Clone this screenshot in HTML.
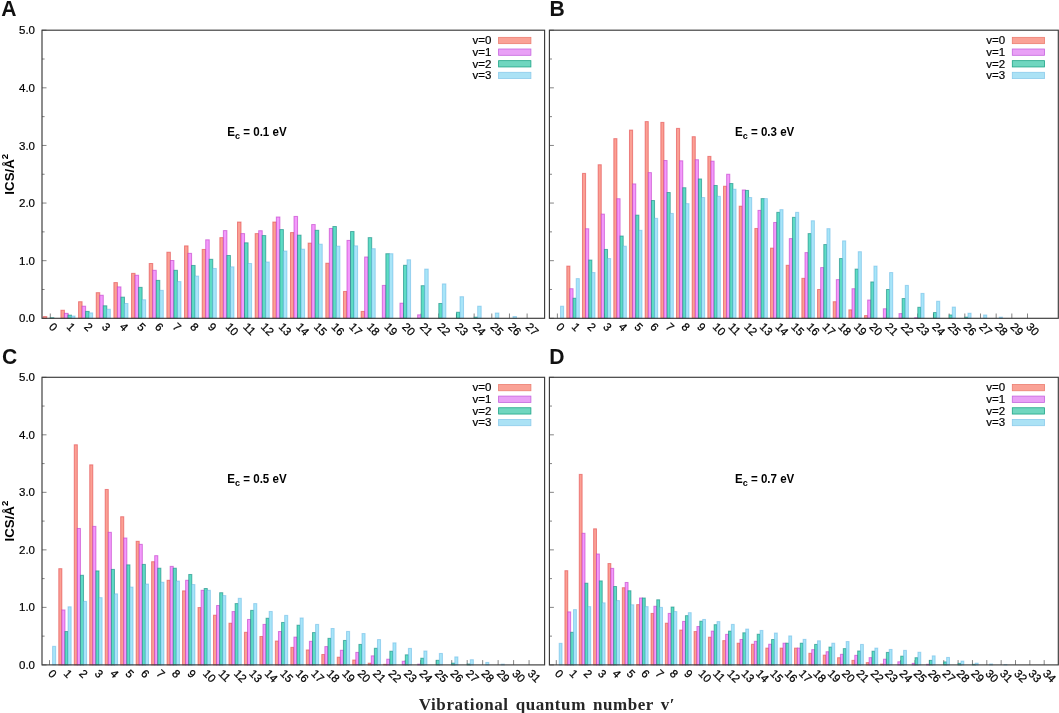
<!DOCTYPE html>
<html lang="en"><head><meta charset="utf-8"><title>ICS vs vibrational quantum number</title>
<style>html,body{margin:0;padding:0;background:#fff}body{width:1059px;height:713px;overflow:hidden}</style>
</head><body>
<svg width="1059" height="713" viewBox="0 0 1059 713" style="display:block;will-change:transform">
<rect width="1059" height="713" fill="#ffffff"/>
<g id="panel-A">
<g stroke="#666" stroke-width="0.8" fill="none">
<line x1="50.30" y1="318.3" x2="50.30" y2="313.50"/>
<line x1="67.96" y1="318.3" x2="67.96" y2="313.50"/>
<line x1="85.62" y1="318.3" x2="85.62" y2="313.50"/>
<line x1="103.28" y1="318.3" x2="103.28" y2="313.50"/>
<line x1="120.94" y1="318.3" x2="120.94" y2="313.50"/>
<line x1="138.60" y1="318.3" x2="138.60" y2="313.50"/>
<line x1="156.26" y1="318.3" x2="156.26" y2="313.50"/>
<line x1="173.92" y1="318.3" x2="173.92" y2="313.50"/>
<line x1="191.58" y1="318.3" x2="191.58" y2="313.50"/>
<line x1="209.24" y1="318.3" x2="209.24" y2="313.50"/>
<line x1="226.90" y1="318.3" x2="226.90" y2="313.50"/>
<line x1="244.56" y1="318.3" x2="244.56" y2="313.50"/>
<line x1="262.22" y1="318.3" x2="262.22" y2="313.50"/>
<line x1="279.88" y1="318.3" x2="279.88" y2="313.50"/>
<line x1="297.54" y1="318.3" x2="297.54" y2="313.50"/>
<line x1="315.20" y1="318.3" x2="315.20" y2="313.50"/>
<line x1="332.86" y1="318.3" x2="332.86" y2="313.50"/>
<line x1="350.52" y1="318.3" x2="350.52" y2="313.50"/>
<line x1="368.18" y1="318.3" x2="368.18" y2="313.50"/>
<line x1="385.84" y1="318.3" x2="385.84" y2="313.50"/>
<line x1="403.50" y1="318.3" x2="403.50" y2="313.50"/>
<line x1="421.16" y1="318.3" x2="421.16" y2="313.50"/>
<line x1="438.82" y1="318.3" x2="438.82" y2="313.50"/>
<line x1="456.48" y1="318.3" x2="456.48" y2="313.50"/>
<line x1="474.14" y1="318.3" x2="474.14" y2="313.50"/>
<line x1="491.80" y1="318.3" x2="491.80" y2="313.50"/>
<line x1="509.46" y1="318.3" x2="509.46" y2="313.50"/>
<line x1="527.12" y1="318.3" x2="527.12" y2="313.50"/>
<line x1="42.0" y1="318.30" x2="46.50" y2="318.30"/>
<line x1="42.0" y1="289.49" x2="44.60" y2="289.49"/>
<line x1="42.0" y1="260.68" x2="46.50" y2="260.68"/>
<line x1="42.0" y1="231.87" x2="44.60" y2="231.87"/>
<line x1="42.0" y1="203.06" x2="46.50" y2="203.06"/>
<line x1="42.0" y1="174.25" x2="44.60" y2="174.25"/>
<line x1="42.0" y1="145.44" x2="46.50" y2="145.44"/>
<line x1="42.0" y1="116.63" x2="44.60" y2="116.63"/>
<line x1="42.0" y1="87.82" x2="46.50" y2="87.82"/>
<line x1="42.0" y1="59.01" x2="44.60" y2="59.01"/>
<line x1="42.0" y1="30.20" x2="46.50" y2="30.20"/>
</g>
<g fill="#FBA094" stroke="rgba(222,52,58,0.52)" stroke-width="1">
<rect x="43.24" y="316.57" width="3.53" height="1.73"/>
<rect x="60.90" y="310.23" width="3.53" height="8.07"/>
<rect x="78.56" y="301.71" width="3.53" height="16.59"/>
<rect x="96.22" y="292.66" width="3.53" height="25.64"/>
<rect x="113.88" y="282.58" width="3.53" height="35.72"/>
<rect x="131.54" y="273.36" width="3.53" height="44.94"/>
<rect x="149.20" y="263.50" width="3.53" height="54.80"/>
<rect x="166.86" y="252.21" width="3.53" height="66.09"/>
<rect x="184.52" y="245.87" width="3.53" height="72.43"/>
<rect x="202.18" y="249.44" width="3.53" height="68.86"/>
<rect x="219.84" y="237.63" width="3.53" height="80.67"/>
<rect x="237.50" y="222.02" width="3.53" height="96.28"/>
<rect x="255.16" y="233.60" width="3.53" height="84.70"/>
<rect x="272.82" y="222.02" width="3.53" height="96.28"/>
<rect x="290.48" y="232.56" width="3.53" height="85.74"/>
<rect x="308.14" y="243.11" width="3.53" height="75.19"/>
<rect x="325.80" y="263.22" width="3.53" height="55.08"/>
<rect x="343.46" y="291.45" width="3.53" height="26.85"/>
<rect x="361.12" y="311.39" width="3.53" height="6.91"/>
</g>
<g fill="#F39AFB" stroke="rgba(185,40,195,0.55)" stroke-width="1">
<rect x="64.43" y="313.34" width="3.53" height="4.96"/>
<rect x="82.09" y="306.20" width="3.53" height="12.10"/>
<rect x="99.75" y="295.25" width="3.53" height="23.05"/>
<rect x="117.41" y="286.90" width="3.53" height="31.40"/>
<rect x="135.07" y="275.26" width="3.53" height="43.04"/>
<rect x="152.73" y="270.30" width="3.53" height="48.00"/>
<rect x="170.39" y="260.51" width="3.53" height="57.79"/>
<rect x="188.05" y="253.36" width="3.53" height="64.94"/>
<rect x="205.71" y="239.82" width="3.53" height="78.48"/>
<rect x="223.37" y="230.60" width="3.53" height="87.70"/>
<rect x="241.03" y="233.60" width="3.53" height="84.70"/>
<rect x="258.69" y="230.72" width="3.53" height="87.58"/>
<rect x="276.35" y="217.00" width="3.53" height="101.30"/>
<rect x="294.01" y="216.43" width="3.53" height="101.87"/>
<rect x="311.67" y="224.55" width="3.53" height="93.75"/>
<rect x="329.33" y="228.47" width="3.53" height="89.83"/>
<rect x="346.99" y="240.40" width="3.53" height="77.90"/>
<rect x="364.65" y="256.99" width="3.53" height="61.31"/>
<rect x="382.31" y="285.40" width="3.53" height="32.90"/>
<rect x="399.97" y="303.20" width="3.53" height="15.10"/>
<rect x="417.63" y="314.84" width="3.53" height="3.46"/>
</g>
<g fill="#5EDCC4" stroke="rgba(0,125,118,0.55)" stroke-width="1">
<rect x="50.30" y="317.72" width="3.53" height="0.58"/>
<rect x="67.96" y="315.13" width="3.53" height="3.17"/>
<rect x="85.62" y="311.39" width="3.53" height="6.91"/>
<rect x="103.28" y="305.80" width="3.53" height="12.50"/>
<rect x="120.94" y="297.15" width="3.53" height="21.15"/>
<rect x="138.60" y="287.36" width="3.53" height="30.94"/>
<rect x="156.26" y="280.39" width="3.53" height="37.91"/>
<rect x="173.92" y="270.30" width="3.53" height="48.00"/>
<rect x="191.58" y="265.46" width="3.53" height="52.84"/>
<rect x="209.24" y="259.30" width="3.53" height="59.00"/>
<rect x="226.90" y="255.49" width="3.53" height="62.81"/>
<rect x="244.56" y="242.82" width="3.53" height="75.48"/>
<rect x="262.22" y="235.56" width="3.53" height="82.74"/>
<rect x="279.88" y="229.57" width="3.53" height="88.73"/>
<rect x="297.54" y="235.15" width="3.53" height="83.15"/>
<rect x="315.20" y="230.31" width="3.53" height="87.99"/>
<rect x="332.86" y="226.51" width="3.53" height="91.79"/>
<rect x="350.52" y="231.52" width="3.53" height="86.78"/>
<rect x="368.18" y="237.63" width="3.53" height="80.67"/>
<rect x="385.84" y="253.71" width="3.53" height="64.59"/>
<rect x="403.50" y="265.29" width="3.53" height="53.01"/>
<rect x="421.16" y="285.69" width="3.53" height="32.61"/>
<rect x="438.82" y="303.49" width="3.53" height="14.81"/>
<rect x="456.48" y="312.25" width="3.53" height="6.05"/>
<rect x="474.14" y="317.15" width="3.53" height="1.15"/>
</g>
<g fill="#A8E5F8" stroke="rgba(80,170,225,0.45)" stroke-width="1">
<rect x="71.49" y="316.00" width="3.53" height="2.30"/>
<rect x="89.15" y="312.88" width="3.53" height="5.42"/>
<rect x="106.81" y="309.25" width="3.53" height="9.05"/>
<rect x="124.47" y="303.49" width="3.53" height="14.81"/>
<rect x="142.13" y="299.75" width="3.53" height="18.55"/>
<rect x="159.79" y="290.35" width="3.53" height="27.95"/>
<rect x="177.45" y="281.60" width="3.53" height="36.70"/>
<rect x="195.11" y="276.06" width="3.53" height="42.24"/>
<rect x="212.77" y="268.46" width="3.53" height="49.84"/>
<rect x="230.43" y="266.85" width="3.53" height="51.45"/>
<rect x="248.09" y="263.50" width="3.53" height="54.80"/>
<rect x="265.75" y="262.01" width="3.53" height="56.29"/>
<rect x="283.41" y="251.00" width="3.53" height="67.30"/>
<rect x="301.07" y="249.16" width="3.53" height="69.14"/>
<rect x="318.73" y="244.20" width="3.53" height="74.10"/>
<rect x="336.39" y="246.16" width="3.53" height="72.14"/>
<rect x="354.05" y="245.87" width="3.53" height="72.43"/>
<rect x="371.71" y="248.70" width="3.53" height="69.60"/>
<rect x="389.37" y="253.71" width="3.53" height="64.59"/>
<rect x="407.03" y="259.76" width="3.53" height="58.54"/>
<rect x="424.69" y="269.09" width="3.53" height="49.21"/>
<rect x="442.35" y="283.90" width="3.53" height="34.40"/>
<rect x="460.01" y="296.69" width="3.53" height="21.61"/>
<rect x="477.67" y="306.20" width="3.53" height="12.10"/>
<rect x="495.33" y="313.00" width="3.53" height="5.30"/>
<rect x="512.99" y="316.57" width="3.53" height="1.73"/>
</g>
<rect x="42.0" y="30.2" width="502.60" height="288.10" fill="none" stroke="#3a3a3a" stroke-width="1.15"/>
<g font-family='"Liberation Sans", Arial, Helvetica, sans-serif' font-size="11.3" fill="#000" stroke="#000" stroke-width="0.25">
<text transform="translate(48.30,327.60) rotate(45)">0</text>
<text transform="translate(65.96,327.60) rotate(45)">1</text>
<text transform="translate(83.62,327.60) rotate(45)">2</text>
<text transform="translate(101.28,327.60) rotate(45)">3</text>
<text transform="translate(118.94,327.60) rotate(45)">4</text>
<text transform="translate(136.60,327.60) rotate(45)">5</text>
<text transform="translate(154.26,327.60) rotate(45)">6</text>
<text transform="translate(171.92,327.60) rotate(45)">7</text>
<text transform="translate(189.58,327.60) rotate(45)">8</text>
<text transform="translate(207.24,327.60) rotate(45)">9</text>
<text transform="translate(224.90,327.60) rotate(45)">10</text>
<text transform="translate(242.56,327.60) rotate(45)">11</text>
<text transform="translate(260.22,327.60) rotate(45)">12</text>
<text transform="translate(277.88,327.60) rotate(45)">13</text>
<text transform="translate(295.54,327.60) rotate(45)">14</text>
<text transform="translate(313.20,327.60) rotate(45)">15</text>
<text transform="translate(330.86,327.60) rotate(45)">16</text>
<text transform="translate(348.52,327.60) rotate(45)">17</text>
<text transform="translate(366.18,327.60) rotate(45)">18</text>
<text transform="translate(383.84,327.60) rotate(45)">19</text>
<text transform="translate(401.50,327.60) rotate(45)">20</text>
<text transform="translate(419.16,327.60) rotate(45)">21</text>
<text transform="translate(436.82,327.60) rotate(45)">22</text>
<text transform="translate(454.48,327.60) rotate(45)">23</text>
<text transform="translate(472.14,327.60) rotate(45)">24</text>
<text transform="translate(489.80,327.60) rotate(45)">25</text>
<text transform="translate(507.46,327.60) rotate(45)">26</text>
<text transform="translate(525.12,327.60) rotate(45)">27</text>
</g>
<g font-family='"Liberation Sans", Arial, Helvetica, sans-serif' font-size="11.5" fill="#000" stroke="#000" stroke-width="0.2" text-anchor="end">
<text x="35.00" y="322.40">0.0</text>
<text x="35.00" y="264.78">1.0</text>
<text x="35.00" y="207.16">2.0</text>
<text x="35.00" y="149.54">3.0</text>
<text x="35.00" y="91.92">4.0</text>
<text x="35.00" y="34.30">5.0</text>
</g>
<text transform="translate(13.7,174.25) rotate(-90)" text-anchor="middle" font-family='"Liberation Sans", Arial, Helvetica, sans-serif' font-weight="bold" font-size="13.3" fill="#000">ICS/Å<tspan font-size="9.6" dy="-5.8">2</tspan></text>
<g font-family='"Liberation Sans", Arial, Helvetica, sans-serif' font-size="11.5" fill="#000" text-anchor="end">
<rect x="498.60" y="37.35" width="32.30" height="6.3" fill="#FAA296" stroke="#EC7E70" stroke-width="0.8"/>
<text x="491.40" y="44.30" stroke="#000" stroke-width="0.2">v=0</text>
<rect x="498.60" y="49.00" width="32.30" height="6.3" fill="#E9A0F6" stroke="#C565DE" stroke-width="0.8"/>
<text x="491.40" y="55.95" stroke="#000" stroke-width="0.2">v=1</text>
<rect x="498.60" y="60.65" width="32.30" height="6.3" fill="#6FD6BF" stroke="#1FA587" stroke-width="0.8"/>
<text x="491.40" y="67.60" stroke="#000" stroke-width="0.2">v=2</text>
<rect x="498.60" y="72.30" width="32.30" height="6.3" fill="#ABE2F5" stroke="#8CCBEB" stroke-width="0.8"/>
<text x="491.40" y="79.25" stroke="#000" stroke-width="0.2">v=3</text>
</g>
<text transform="translate(227.30,135.50) scale(0.925,1)" font-family='"Liberation Sans", Arial, Helvetica, sans-serif' font-weight="bold" font-size="12.5" fill="#000">E<tspan font-size="9.8" dy="3.4">c</tspan><tspan dy="-3.4"> = 0.1 eV</tspan></text>
<text transform="translate(1.3,15.7) scale(0.96,1)" font-family='"Liberation Sans", Arial, Helvetica, sans-serif' font-weight="bold" font-size="22" fill="#111">A</text>
</g>
<g id="panel-B">
<g stroke="#666" stroke-width="0.8" fill="none">
<line x1="557.40" y1="318.3" x2="557.40" y2="313.50"/>
<line x1="573.07" y1="318.3" x2="573.07" y2="313.50"/>
<line x1="588.74" y1="318.3" x2="588.74" y2="313.50"/>
<line x1="604.41" y1="318.3" x2="604.41" y2="313.50"/>
<line x1="620.08" y1="318.3" x2="620.08" y2="313.50"/>
<line x1="635.75" y1="318.3" x2="635.75" y2="313.50"/>
<line x1="651.42" y1="318.3" x2="651.42" y2="313.50"/>
<line x1="667.09" y1="318.3" x2="667.09" y2="313.50"/>
<line x1="682.76" y1="318.3" x2="682.76" y2="313.50"/>
<line x1="698.43" y1="318.3" x2="698.43" y2="313.50"/>
<line x1="714.10" y1="318.3" x2="714.10" y2="313.50"/>
<line x1="729.77" y1="318.3" x2="729.77" y2="313.50"/>
<line x1="745.44" y1="318.3" x2="745.44" y2="313.50"/>
<line x1="761.11" y1="318.3" x2="761.11" y2="313.50"/>
<line x1="776.78" y1="318.3" x2="776.78" y2="313.50"/>
<line x1="792.45" y1="318.3" x2="792.45" y2="313.50"/>
<line x1="808.12" y1="318.3" x2="808.12" y2="313.50"/>
<line x1="823.79" y1="318.3" x2="823.79" y2="313.50"/>
<line x1="839.46" y1="318.3" x2="839.46" y2="313.50"/>
<line x1="855.13" y1="318.3" x2="855.13" y2="313.50"/>
<line x1="870.80" y1="318.3" x2="870.80" y2="313.50"/>
<line x1="886.47" y1="318.3" x2="886.47" y2="313.50"/>
<line x1="902.14" y1="318.3" x2="902.14" y2="313.50"/>
<line x1="917.81" y1="318.3" x2="917.81" y2="313.50"/>
<line x1="933.48" y1="318.3" x2="933.48" y2="313.50"/>
<line x1="949.15" y1="318.3" x2="949.15" y2="313.50"/>
<line x1="964.82" y1="318.3" x2="964.82" y2="313.50"/>
<line x1="980.49" y1="318.3" x2="980.49" y2="313.50"/>
<line x1="996.16" y1="318.3" x2="996.16" y2="313.50"/>
<line x1="1011.83" y1="318.3" x2="1011.83" y2="313.50"/>
<line x1="1027.50" y1="318.3" x2="1027.50" y2="313.50"/>
<line x1="549.4" y1="318.30" x2="553.90" y2="318.30"/>
<line x1="549.4" y1="289.49" x2="552.00" y2="289.49"/>
<line x1="549.4" y1="260.68" x2="553.90" y2="260.68"/>
<line x1="549.4" y1="231.87" x2="552.00" y2="231.87"/>
<line x1="549.4" y1="203.06" x2="553.90" y2="203.06"/>
<line x1="549.4" y1="174.25" x2="552.00" y2="174.25"/>
<line x1="549.4" y1="145.44" x2="553.90" y2="145.44"/>
<line x1="549.4" y1="116.63" x2="552.00" y2="116.63"/>
<line x1="549.4" y1="87.82" x2="553.90" y2="87.82"/>
<line x1="549.4" y1="59.01" x2="552.00" y2="59.01"/>
<line x1="549.4" y1="30.20" x2="553.90" y2="30.20"/>
</g>
<g fill="#FBA094" stroke="rgba(222,52,58,0.52)" stroke-width="1">
<rect x="566.80" y="266.10" width="3.13" height="52.20"/>
<rect x="582.47" y="173.39" width="3.13" height="144.91"/>
<rect x="598.14" y="164.74" width="3.13" height="153.56"/>
<rect x="613.81" y="138.64" width="3.13" height="179.66"/>
<rect x="629.48" y="130.06" width="3.13" height="188.24"/>
<rect x="645.15" y="121.59" width="3.13" height="196.71"/>
<rect x="660.82" y="122.39" width="3.13" height="195.91"/>
<rect x="676.49" y="128.38" width="3.13" height="189.92"/>
<rect x="692.16" y="136.68" width="3.13" height="181.62"/>
<rect x="707.83" y="156.39" width="3.13" height="161.91"/>
<rect x="723.50" y="186.23" width="3.13" height="132.07"/>
<rect x="739.17" y="206.17" width="3.13" height="112.13"/>
<rect x="754.84" y="228.47" width="3.13" height="89.83"/>
<rect x="770.51" y="248.12" width="3.13" height="70.18"/>
<rect x="786.18" y="265.29" width="3.13" height="53.01"/>
<rect x="801.85" y="278.31" width="3.13" height="39.99"/>
<rect x="817.52" y="289.49" width="3.13" height="28.81"/>
<rect x="833.19" y="301.71" width="3.13" height="16.59"/>
<rect x="848.86" y="309.83" width="3.13" height="8.47"/>
<rect x="864.53" y="315.59" width="3.13" height="2.71"/>
</g>
<g fill="#F39AFB" stroke="rgba(185,40,195,0.55)" stroke-width="1">
<rect x="569.94" y="288.74" width="3.13" height="29.56"/>
<rect x="585.61" y="228.76" width="3.13" height="89.54"/>
<rect x="601.28" y="214.12" width="3.13" height="104.18"/>
<rect x="616.95" y="198.74" width="3.13" height="119.56"/>
<rect x="632.62" y="183.93" width="3.13" height="134.37"/>
<rect x="648.29" y="172.64" width="3.13" height="145.66"/>
<rect x="663.96" y="160.54" width="3.13" height="157.76"/>
<rect x="679.63" y="160.82" width="3.13" height="157.48"/>
<rect x="695.30" y="159.73" width="3.13" height="158.57"/>
<rect x="710.97" y="161.17" width="3.13" height="157.13"/>
<rect x="726.64" y="174.25" width="3.13" height="144.05"/>
<rect x="742.31" y="189.98" width="3.13" height="128.32"/>
<rect x="757.98" y="210.38" width="3.13" height="107.92"/>
<rect x="773.65" y="222.48" width="3.13" height="95.82"/>
<rect x="789.32" y="238.61" width="3.13" height="79.69"/>
<rect x="804.99" y="252.61" width="3.13" height="65.69"/>
<rect x="820.66" y="267.59" width="3.13" height="50.71"/>
<rect x="836.33" y="279.64" width="3.13" height="38.66"/>
<rect x="852.00" y="288.74" width="3.13" height="29.56"/>
<rect x="867.67" y="300.03" width="3.13" height="18.27"/>
<rect x="883.34" y="308.79" width="3.13" height="9.51"/>
<rect x="899.01" y="313.63" width="3.13" height="4.67"/>
<rect x="914.68" y="317.72" width="3.13" height="0.58"/>
</g>
<g fill="#5EDCC4" stroke="rgba(0,125,118,0.55)" stroke-width="1">
<rect x="573.07" y="298.25" width="3.13" height="20.05"/>
<rect x="588.74" y="260.05" width="3.13" height="58.25"/>
<rect x="604.41" y="249.44" width="3.13" height="68.86"/>
<rect x="620.08" y="236.02" width="3.13" height="82.28"/>
<rect x="635.75" y="215.16" width="3.13" height="103.14"/>
<rect x="651.42" y="200.52" width="3.13" height="117.78"/>
<rect x="667.09" y="192.52" width="3.13" height="125.78"/>
<rect x="682.76" y="187.73" width="3.13" height="130.57"/>
<rect x="698.43" y="178.97" width="3.13" height="139.33"/>
<rect x="714.10" y="185.49" width="3.13" height="132.81"/>
<rect x="729.77" y="183.53" width="3.13" height="134.77"/>
<rect x="745.44" y="190.44" width="3.13" height="127.86"/>
<rect x="761.11" y="198.62" width="3.13" height="119.68"/>
<rect x="776.78" y="212.34" width="3.13" height="105.96"/>
<rect x="792.45" y="217.35" width="3.13" height="100.95"/>
<rect x="808.12" y="233.60" width="3.13" height="84.70"/>
<rect x="823.79" y="244.55" width="3.13" height="73.75"/>
<rect x="839.46" y="258.55" width="3.13" height="59.75"/>
<rect x="855.13" y="269.09" width="3.13" height="49.21"/>
<rect x="870.80" y="281.94" width="3.13" height="36.36"/>
<rect x="886.47" y="289.49" width="3.13" height="28.81"/>
<rect x="902.14" y="298.54" width="3.13" height="19.76"/>
<rect x="917.81" y="307.29" width="3.13" height="11.01"/>
<rect x="933.48" y="312.54" width="3.13" height="5.76"/>
<rect x="949.15" y="314.96" width="3.13" height="3.34"/>
<rect x="964.82" y="317.15" width="3.13" height="1.15"/>
</g>
<g fill="#A8E5F8" stroke="rgba(80,170,225,0.45)" stroke-width="1">
<rect x="560.53" y="306.20" width="3.13" height="12.10"/>
<rect x="576.20" y="278.60" width="3.13" height="39.70"/>
<rect x="591.87" y="272.55" width="3.13" height="45.75"/>
<rect x="607.54" y="258.55" width="3.13" height="59.75"/>
<rect x="623.21" y="246.16" width="3.13" height="72.14"/>
<rect x="638.88" y="230.31" width="3.13" height="87.99"/>
<rect x="654.55" y="218.33" width="3.13" height="99.97"/>
<rect x="670.22" y="213.43" width="3.13" height="104.87"/>
<rect x="685.89" y="203.64" width="3.13" height="114.66"/>
<rect x="701.56" y="197.53" width="3.13" height="120.77"/>
<rect x="717.23" y="196.32" width="3.13" height="121.98"/>
<rect x="732.90" y="189.23" width="3.13" height="129.07"/>
<rect x="748.57" y="197.53" width="3.13" height="120.77"/>
<rect x="764.24" y="198.62" width="3.13" height="119.68"/>
<rect x="779.91" y="209.63" width="3.13" height="108.67"/>
<rect x="795.58" y="212.34" width="3.13" height="105.96"/>
<rect x="811.25" y="220.75" width="3.13" height="97.55"/>
<rect x="826.92" y="228.64" width="3.13" height="89.66"/>
<rect x="842.59" y="240.86" width="3.13" height="77.44"/>
<rect x="858.26" y="251.69" width="3.13" height="66.61"/>
<rect x="873.93" y="266.10" width="3.13" height="52.20"/>
<rect x="889.60" y="272.55" width="3.13" height="45.75"/>
<rect x="905.27" y="285.40" width="3.13" height="32.90"/>
<rect x="920.94" y="293.41" width="3.13" height="24.89"/>
<rect x="936.61" y="301.24" width="3.13" height="17.06"/>
<rect x="952.28" y="307.06" width="3.13" height="11.24"/>
<rect x="967.95" y="313.23" width="3.13" height="5.07"/>
<rect x="983.62" y="314.96" width="3.13" height="3.34"/>
<rect x="999.29" y="317.15" width="3.13" height="1.15"/>
</g>
<rect x="549.4" y="30.2" width="508.90" height="288.10" fill="none" stroke="#3a3a3a" stroke-width="1.15"/>
<g font-family='"Liberation Sans", Arial, Helvetica, sans-serif' font-size="11.3" fill="#000" stroke="#000" stroke-width="0.25">
<text transform="translate(555.40,327.60) rotate(45)">0</text>
<text transform="translate(571.07,327.60) rotate(45)">1</text>
<text transform="translate(586.74,327.60) rotate(45)">2</text>
<text transform="translate(602.41,327.60) rotate(45)">3</text>
<text transform="translate(618.08,327.60) rotate(45)">4</text>
<text transform="translate(633.75,327.60) rotate(45)">5</text>
<text transform="translate(649.42,327.60) rotate(45)">6</text>
<text transform="translate(665.09,327.60) rotate(45)">7</text>
<text transform="translate(680.76,327.60) rotate(45)">8</text>
<text transform="translate(696.43,327.60) rotate(45)">9</text>
<text transform="translate(712.10,327.60) rotate(45)">10</text>
<text transform="translate(727.77,327.60) rotate(45)">11</text>
<text transform="translate(743.44,327.60) rotate(45)">12</text>
<text transform="translate(759.11,327.60) rotate(45)">13</text>
<text transform="translate(774.78,327.60) rotate(45)">14</text>
<text transform="translate(790.45,327.60) rotate(45)">15</text>
<text transform="translate(806.12,327.60) rotate(45)">16</text>
<text transform="translate(821.79,327.60) rotate(45)">17</text>
<text transform="translate(837.46,327.60) rotate(45)">18</text>
<text transform="translate(853.13,327.60) rotate(45)">19</text>
<text transform="translate(868.80,327.60) rotate(45)">20</text>
<text transform="translate(884.47,327.60) rotate(45)">21</text>
<text transform="translate(900.14,327.60) rotate(45)">22</text>
<text transform="translate(915.81,327.60) rotate(45)">23</text>
<text transform="translate(931.48,327.60) rotate(45)">24</text>
<text transform="translate(947.15,327.60) rotate(45)">25</text>
<text transform="translate(962.82,327.60) rotate(45)">26</text>
<text transform="translate(978.49,327.60) rotate(45)">27</text>
<text transform="translate(994.16,327.60) rotate(45)">28</text>
<text transform="translate(1009.83,327.60) rotate(45)">29</text>
<text transform="translate(1025.50,327.60) rotate(45)">30</text>
</g>
<g font-family='"Liberation Sans", Arial, Helvetica, sans-serif' font-size="11.5" fill="#000" text-anchor="end">
<rect x="1012.30" y="37.35" width="32.30" height="6.3" fill="#FAA296" stroke="#EC7E70" stroke-width="0.8"/>
<text x="1005.10" y="44.30" stroke="#000" stroke-width="0.2">v=0</text>
<rect x="1012.30" y="49.00" width="32.30" height="6.3" fill="#E9A0F6" stroke="#C565DE" stroke-width="0.8"/>
<text x="1005.10" y="55.95" stroke="#000" stroke-width="0.2">v=1</text>
<rect x="1012.30" y="60.65" width="32.30" height="6.3" fill="#6FD6BF" stroke="#1FA587" stroke-width="0.8"/>
<text x="1005.10" y="67.60" stroke="#000" stroke-width="0.2">v=2</text>
<rect x="1012.30" y="72.30" width="32.30" height="6.3" fill="#ABE2F5" stroke="#8CCBEB" stroke-width="0.8"/>
<text x="1005.10" y="79.25" stroke="#000" stroke-width="0.2">v=3</text>
</g>
<text transform="translate(735.00,135.50) scale(0.925,1)" font-family='"Liberation Sans", Arial, Helvetica, sans-serif' font-weight="bold" font-size="12.5" fill="#000">E<tspan font-size="9.8" dy="3.4">c</tspan><tspan dy="-3.4"> = 0.3 eV</tspan></text>
<text transform="translate(549.4,15.6) scale(0.96,1)" font-family='"Liberation Sans", Arial, Helvetica, sans-serif' font-weight="bold" font-size="22" fill="#111">B</text>
</g>
<g id="panel-C">
<g stroke="#666" stroke-width="0.8" fill="none">
<line x1="49.50" y1="664.9" x2="49.50" y2="660.10"/>
<line x1="64.97" y1="664.9" x2="64.97" y2="660.10"/>
<line x1="80.44" y1="664.9" x2="80.44" y2="660.10"/>
<line x1="95.91" y1="664.9" x2="95.91" y2="660.10"/>
<line x1="111.38" y1="664.9" x2="111.38" y2="660.10"/>
<line x1="126.85" y1="664.9" x2="126.85" y2="660.10"/>
<line x1="142.32" y1="664.9" x2="142.32" y2="660.10"/>
<line x1="157.79" y1="664.9" x2="157.79" y2="660.10"/>
<line x1="173.26" y1="664.9" x2="173.26" y2="660.10"/>
<line x1="188.73" y1="664.9" x2="188.73" y2="660.10"/>
<line x1="204.20" y1="664.9" x2="204.20" y2="660.10"/>
<line x1="219.67" y1="664.9" x2="219.67" y2="660.10"/>
<line x1="235.14" y1="664.9" x2="235.14" y2="660.10"/>
<line x1="250.61" y1="664.9" x2="250.61" y2="660.10"/>
<line x1="266.08" y1="664.9" x2="266.08" y2="660.10"/>
<line x1="281.55" y1="664.9" x2="281.55" y2="660.10"/>
<line x1="297.02" y1="664.9" x2="297.02" y2="660.10"/>
<line x1="312.49" y1="664.9" x2="312.49" y2="660.10"/>
<line x1="327.96" y1="664.9" x2="327.96" y2="660.10"/>
<line x1="343.43" y1="664.9" x2="343.43" y2="660.10"/>
<line x1="358.90" y1="664.9" x2="358.90" y2="660.10"/>
<line x1="374.37" y1="664.9" x2="374.37" y2="660.10"/>
<line x1="389.84" y1="664.9" x2="389.84" y2="660.10"/>
<line x1="405.31" y1="664.9" x2="405.31" y2="660.10"/>
<line x1="420.78" y1="664.9" x2="420.78" y2="660.10"/>
<line x1="436.25" y1="664.9" x2="436.25" y2="660.10"/>
<line x1="451.72" y1="664.9" x2="451.72" y2="660.10"/>
<line x1="467.19" y1="664.9" x2="467.19" y2="660.10"/>
<line x1="482.66" y1="664.9" x2="482.66" y2="660.10"/>
<line x1="498.13" y1="664.9" x2="498.13" y2="660.10"/>
<line x1="513.60" y1="664.9" x2="513.60" y2="660.10"/>
<line x1="529.07" y1="664.9" x2="529.07" y2="660.10"/>
<line x1="42.0" y1="664.90" x2="46.50" y2="664.90"/>
<line x1="42.0" y1="636.14" x2="44.60" y2="636.14"/>
<line x1="42.0" y1="607.38" x2="46.50" y2="607.38"/>
<line x1="42.0" y1="578.62" x2="44.60" y2="578.62"/>
<line x1="42.0" y1="549.86" x2="46.50" y2="549.86"/>
<line x1="42.0" y1="521.10" x2="44.60" y2="521.10"/>
<line x1="42.0" y1="492.34" x2="46.50" y2="492.34"/>
<line x1="42.0" y1="463.58" x2="44.60" y2="463.58"/>
<line x1="42.0" y1="434.82" x2="46.50" y2="434.82"/>
<line x1="42.0" y1="406.06" x2="44.60" y2="406.06"/>
<line x1="42.0" y1="377.30" x2="46.50" y2="377.30"/>
</g>
<g fill="#FBA094" stroke="rgba(222,52,58,0.52)" stroke-width="1">
<rect x="58.78" y="568.67" width="3.09" height="96.23"/>
<rect x="74.25" y="444.77" width="3.09" height="220.13"/>
<rect x="89.72" y="464.85" width="3.09" height="200.05"/>
<rect x="105.19" y="489.46" width="3.09" height="175.44"/>
<rect x="120.66" y="516.73" width="3.09" height="148.17"/>
<rect x="136.13" y="541.29" width="3.09" height="123.61"/>
<rect x="151.60" y="561.71" width="3.09" height="103.19"/>
<rect x="167.07" y="580.29" width="3.09" height="84.61"/>
<rect x="182.54" y="590.87" width="3.09" height="74.03"/>
<rect x="198.01" y="607.55" width="3.09" height="57.35"/>
<rect x="213.48" y="615.20" width="3.09" height="49.70"/>
<rect x="228.95" y="623.20" width="3.09" height="41.70"/>
<rect x="244.42" y="632.29" width="3.09" height="32.61"/>
<rect x="259.89" y="636.49" width="3.09" height="28.41"/>
<rect x="275.36" y="641.03" width="3.09" height="23.87"/>
<rect x="290.83" y="647.36" width="3.09" height="17.54"/>
<rect x="306.30" y="649.94" width="3.09" height="14.96"/>
<rect x="321.77" y="654.49" width="3.09" height="10.41"/>
<rect x="337.24" y="657.19" width="3.09" height="7.71"/>
<rect x="352.71" y="660.01" width="3.09" height="4.89"/>
<rect x="368.18" y="663.17" width="3.09" height="1.73"/>
<rect x="383.65" y="664.32" width="3.09" height="0.58"/>
</g>
<g fill="#F39AFB" stroke="rgba(185,40,195,0.55)" stroke-width="1">
<rect x="61.88" y="609.97" width="3.09" height="54.93"/>
<rect x="77.35" y="528.46" width="3.09" height="136.44"/>
<rect x="92.82" y="526.39" width="3.09" height="138.51"/>
<rect x="108.29" y="532.32" width="3.09" height="132.58"/>
<rect x="123.76" y="538.01" width="3.09" height="126.89"/>
<rect x="139.23" y="544.34" width="3.09" height="120.56"/>
<rect x="154.70" y="555.67" width="3.09" height="109.23"/>
<rect x="170.17" y="566.37" width="3.09" height="98.53"/>
<rect x="185.64" y="580.29" width="3.09" height="84.61"/>
<rect x="201.11" y="590.30" width="3.09" height="74.60"/>
<rect x="216.58" y="605.54" width="3.09" height="59.36"/>
<rect x="232.05" y="611.58" width="3.09" height="53.32"/>
<rect x="247.52" y="619.46" width="3.09" height="45.44"/>
<rect x="262.99" y="624.41" width="3.09" height="40.49"/>
<rect x="278.46" y="631.54" width="3.09" height="33.36"/>
<rect x="293.93" y="637.12" width="3.09" height="27.78"/>
<rect x="309.40" y="641.32" width="3.09" height="23.58"/>
<rect x="324.87" y="646.61" width="3.09" height="18.29"/>
<rect x="340.34" y="650.29" width="3.09" height="14.61"/>
<rect x="355.81" y="652.42" width="3.09" height="12.48"/>
<rect x="371.28" y="655.87" width="3.09" height="9.03"/>
<rect x="386.75" y="659.21" width="3.09" height="5.69"/>
<rect x="402.22" y="661.28" width="3.09" height="3.62"/>
<rect x="417.69" y="664.15" width="3.09" height="0.75"/>
</g>
<g fill="#5EDCC4" stroke="rgba(0,125,118,0.55)" stroke-width="1">
<rect x="64.97" y="631.54" width="3.09" height="33.36"/>
<rect x="80.44" y="575.28" width="3.09" height="89.62"/>
<rect x="95.91" y="570.91" width="3.09" height="93.99"/>
<rect x="111.38" y="569.42" width="3.09" height="95.48"/>
<rect x="126.85" y="564.87" width="3.09" height="100.03"/>
<rect x="142.32" y="564.41" width="3.09" height="100.49"/>
<rect x="157.79" y="568.21" width="3.09" height="96.69"/>
<rect x="173.26" y="568.21" width="3.09" height="96.69"/>
<rect x="188.73" y="574.48" width="3.09" height="90.42"/>
<rect x="204.20" y="588.51" width="3.09" height="76.39"/>
<rect x="219.67" y="592.71" width="3.09" height="72.19"/>
<rect x="235.14" y="603.58" width="3.09" height="61.32"/>
<rect x="250.61" y="610.37" width="3.09" height="54.53"/>
<rect x="266.08" y="618.25" width="3.09" height="46.65"/>
<rect x="281.55" y="622.45" width="3.09" height="42.45"/>
<rect x="297.02" y="625.21" width="3.09" height="39.69"/>
<rect x="312.49" y="632.57" width="3.09" height="32.33"/>
<rect x="327.96" y="638.33" width="3.09" height="26.57"/>
<rect x="343.43" y="640.45" width="3.09" height="24.45"/>
<rect x="358.90" y="644.42" width="3.09" height="20.48"/>
<rect x="374.37" y="648.28" width="3.09" height="16.62"/>
<rect x="389.84" y="651.21" width="3.09" height="13.69"/>
<rect x="405.31" y="654.83" width="3.09" height="10.07"/>
<rect x="420.78" y="658.23" width="3.09" height="6.67"/>
<rect x="436.25" y="660.30" width="3.09" height="4.60"/>
<rect x="451.72" y="663.17" width="3.09" height="1.73"/>
<rect x="467.19" y="663.98" width="3.09" height="0.92"/>
</g>
<g fill="#A8E5F8" stroke="rgba(80,170,225,0.45)" stroke-width="1">
<rect x="52.59" y="646.32" width="3.09" height="18.58"/>
<rect x="68.06" y="606.80" width="3.09" height="58.10"/>
<rect x="83.53" y="601.40" width="3.09" height="63.50"/>
<rect x="99.00" y="597.66" width="3.09" height="67.24"/>
<rect x="114.47" y="593.86" width="3.09" height="71.04"/>
<rect x="129.94" y="587.08" width="3.09" height="77.82"/>
<rect x="145.41" y="584.03" width="3.09" height="80.87"/>
<rect x="160.88" y="582.24" width="3.09" height="82.66"/>
<rect x="176.35" y="581.04" width="3.09" height="83.86"/>
<rect x="191.82" y="584.54" width="3.09" height="80.36"/>
<rect x="207.29" y="590.30" width="3.09" height="74.60"/>
<rect x="222.76" y="595.59" width="3.09" height="69.31"/>
<rect x="238.23" y="598.29" width="3.09" height="66.61"/>
<rect x="253.70" y="603.58" width="3.09" height="61.32"/>
<rect x="269.17" y="611.46" width="3.09" height="53.44"/>
<rect x="284.64" y="615.38" width="3.09" height="49.52"/>
<rect x="300.11" y="617.96" width="3.09" height="46.94"/>
<rect x="315.58" y="624.41" width="3.09" height="40.49"/>
<rect x="331.05" y="628.49" width="3.09" height="36.41"/>
<rect x="346.52" y="631.42" width="3.09" height="33.48"/>
<rect x="361.99" y="633.55" width="3.09" height="31.35"/>
<rect x="377.46" y="639.59" width="3.09" height="25.31"/>
<rect x="392.93" y="642.87" width="3.09" height="22.03"/>
<rect x="408.40" y="648.39" width="3.09" height="16.51"/>
<rect x="423.87" y="650.98" width="3.09" height="13.92"/>
<rect x="439.34" y="653.45" width="3.09" height="11.45"/>
<rect x="454.81" y="656.90" width="3.09" height="8.00"/>
<rect x="470.28" y="659.72" width="3.09" height="5.18"/>
<rect x="485.75" y="662.43" width="3.09" height="2.47"/>
<rect x="501.22" y="664.15" width="3.09" height="0.75"/>
</g>
<rect x="42.0" y="377.3" width="502.60" height="287.60" fill="none" stroke="#3a3a3a" stroke-width="1.15"/>
<g font-family='"Liberation Sans", Arial, Helvetica, sans-serif' font-size="11.3" fill="#000" stroke="#000" stroke-width="0.25">
<text transform="translate(47.50,674.20) rotate(45)">0</text>
<text transform="translate(62.97,674.20) rotate(45)">1</text>
<text transform="translate(78.44,674.20) rotate(45)">2</text>
<text transform="translate(93.91,674.20) rotate(45)">3</text>
<text transform="translate(109.38,674.20) rotate(45)">4</text>
<text transform="translate(124.85,674.20) rotate(45)">5</text>
<text transform="translate(140.32,674.20) rotate(45)">6</text>
<text transform="translate(155.79,674.20) rotate(45)">7</text>
<text transform="translate(171.26,674.20) rotate(45)">8</text>
<text transform="translate(186.73,674.20) rotate(45)">9</text>
<text transform="translate(202.20,674.20) rotate(45)">10</text>
<text transform="translate(217.67,674.20) rotate(45)">11</text>
<text transform="translate(233.14,674.20) rotate(45)">12</text>
<text transform="translate(248.61,674.20) rotate(45)">13</text>
<text transform="translate(264.08,674.20) rotate(45)">14</text>
<text transform="translate(279.55,674.20) rotate(45)">15</text>
<text transform="translate(295.02,674.20) rotate(45)">16</text>
<text transform="translate(310.49,674.20) rotate(45)">17</text>
<text transform="translate(325.96,674.20) rotate(45)">18</text>
<text transform="translate(341.43,674.20) rotate(45)">19</text>
<text transform="translate(356.90,674.20) rotate(45)">20</text>
<text transform="translate(372.37,674.20) rotate(45)">21</text>
<text transform="translate(387.84,674.20) rotate(45)">22</text>
<text transform="translate(403.31,674.20) rotate(45)">23</text>
<text transform="translate(418.78,674.20) rotate(45)">24</text>
<text transform="translate(434.25,674.20) rotate(45)">25</text>
<text transform="translate(449.72,674.20) rotate(45)">26</text>
<text transform="translate(465.19,674.20) rotate(45)">27</text>
<text transform="translate(480.66,674.20) rotate(45)">28</text>
<text transform="translate(496.13,674.20) rotate(45)">29</text>
<text transform="translate(511.60,674.20) rotate(45)">30</text>
<text transform="translate(527.07,674.20) rotate(45)">31</text>
</g>
<g font-family='"Liberation Sans", Arial, Helvetica, sans-serif' font-size="11.5" fill="#000" stroke="#000" stroke-width="0.2" text-anchor="end">
<text x="35.00" y="669.00">0.0</text>
<text x="35.00" y="611.48">1.0</text>
<text x="35.00" y="553.96">2.0</text>
<text x="35.00" y="496.44">3.0</text>
<text x="35.00" y="438.92">4.0</text>
<text x="35.00" y="381.40">5.0</text>
</g>
<text transform="translate(13.7,521.10) rotate(-90)" text-anchor="middle" font-family='"Liberation Sans", Arial, Helvetica, sans-serif' font-weight="bold" font-size="13.3" fill="#000">ICS/Å<tspan font-size="9.6" dy="-5.8">2</tspan></text>
<g font-family='"Liberation Sans", Arial, Helvetica, sans-serif' font-size="11.5" fill="#000" text-anchor="end">
<rect x="498.60" y="384.45" width="32.30" height="6.3" fill="#FAA296" stroke="#EC7E70" stroke-width="0.8"/>
<text x="491.40" y="391.40" stroke="#000" stroke-width="0.2">v=0</text>
<rect x="498.60" y="396.10" width="32.30" height="6.3" fill="#E9A0F6" stroke="#C565DE" stroke-width="0.8"/>
<text x="491.40" y="403.05" stroke="#000" stroke-width="0.2">v=1</text>
<rect x="498.60" y="407.75" width="32.30" height="6.3" fill="#6FD6BF" stroke="#1FA587" stroke-width="0.8"/>
<text x="491.40" y="414.70" stroke="#000" stroke-width="0.2">v=2</text>
<rect x="498.60" y="419.40" width="32.30" height="6.3" fill="#ABE2F5" stroke="#8CCBEB" stroke-width="0.8"/>
<text x="491.40" y="426.35" stroke="#000" stroke-width="0.2">v=3</text>
</g>
<text transform="translate(227.30,482.60) scale(0.925,1)" font-family='"Liberation Sans", Arial, Helvetica, sans-serif' font-weight="bold" font-size="12.5" fill="#000">E<tspan font-size="9.8" dy="3.4">c</tspan><tspan dy="-3.4"> = 0.5 eV</tspan></text>
<text transform="translate(2.0,364.2) scale(0.96,1)" font-family='"Liberation Sans", Arial, Helvetica, sans-serif' font-weight="bold" font-size="22" fill="#111">C</text>
</g>
<g id="panel-D">
<g stroke="#666" stroke-width="0.8" fill="none">
<line x1="556.30" y1="664.9" x2="556.30" y2="660.10"/>
<line x1="570.65" y1="664.9" x2="570.65" y2="660.10"/>
<line x1="585.00" y1="664.9" x2="585.00" y2="660.10"/>
<line x1="599.35" y1="664.9" x2="599.35" y2="660.10"/>
<line x1="613.70" y1="664.9" x2="613.70" y2="660.10"/>
<line x1="628.05" y1="664.9" x2="628.05" y2="660.10"/>
<line x1="642.40" y1="664.9" x2="642.40" y2="660.10"/>
<line x1="656.75" y1="664.9" x2="656.75" y2="660.10"/>
<line x1="671.10" y1="664.9" x2="671.10" y2="660.10"/>
<line x1="685.45" y1="664.9" x2="685.45" y2="660.10"/>
<line x1="699.80" y1="664.9" x2="699.80" y2="660.10"/>
<line x1="714.15" y1="664.9" x2="714.15" y2="660.10"/>
<line x1="728.50" y1="664.9" x2="728.50" y2="660.10"/>
<line x1="742.85" y1="664.9" x2="742.85" y2="660.10"/>
<line x1="757.20" y1="664.9" x2="757.20" y2="660.10"/>
<line x1="771.55" y1="664.9" x2="771.55" y2="660.10"/>
<line x1="785.90" y1="664.9" x2="785.90" y2="660.10"/>
<line x1="800.25" y1="664.9" x2="800.25" y2="660.10"/>
<line x1="814.60" y1="664.9" x2="814.60" y2="660.10"/>
<line x1="828.95" y1="664.9" x2="828.95" y2="660.10"/>
<line x1="843.30" y1="664.9" x2="843.30" y2="660.10"/>
<line x1="857.65" y1="664.9" x2="857.65" y2="660.10"/>
<line x1="872.00" y1="664.9" x2="872.00" y2="660.10"/>
<line x1="886.35" y1="664.9" x2="886.35" y2="660.10"/>
<line x1="900.70" y1="664.9" x2="900.70" y2="660.10"/>
<line x1="915.05" y1="664.9" x2="915.05" y2="660.10"/>
<line x1="929.40" y1="664.9" x2="929.40" y2="660.10"/>
<line x1="943.75" y1="664.9" x2="943.75" y2="660.10"/>
<line x1="958.10" y1="664.9" x2="958.10" y2="660.10"/>
<line x1="972.45" y1="664.9" x2="972.45" y2="660.10"/>
<line x1="986.80" y1="664.9" x2="986.80" y2="660.10"/>
<line x1="1001.15" y1="664.9" x2="1001.15" y2="660.10"/>
<line x1="1015.50" y1="664.9" x2="1015.50" y2="660.10"/>
<line x1="1029.85" y1="664.9" x2="1029.85" y2="660.10"/>
<line x1="1044.20" y1="664.9" x2="1044.20" y2="660.10"/>
<line x1="549.4" y1="664.90" x2="553.90" y2="664.90"/>
<line x1="549.4" y1="636.14" x2="552.00" y2="636.14"/>
<line x1="549.4" y1="607.38" x2="553.90" y2="607.38"/>
<line x1="549.4" y1="578.62" x2="552.00" y2="578.62"/>
<line x1="549.4" y1="549.86" x2="553.90" y2="549.86"/>
<line x1="549.4" y1="521.10" x2="552.00" y2="521.10"/>
<line x1="549.4" y1="492.34" x2="553.90" y2="492.34"/>
<line x1="549.4" y1="463.58" x2="552.00" y2="463.58"/>
<line x1="549.4" y1="434.82" x2="553.90" y2="434.82"/>
<line x1="549.4" y1="406.06" x2="552.00" y2="406.06"/>
<line x1="549.4" y1="377.30" x2="553.90" y2="377.30"/>
</g>
<g fill="#FBA094" stroke="rgba(222,52,58,0.52)" stroke-width="1">
<rect x="564.91" y="570.68" width="2.87" height="94.22"/>
<rect x="579.26" y="474.39" width="2.87" height="190.51"/>
<rect x="593.61" y="528.81" width="2.87" height="136.09"/>
<rect x="607.96" y="563.55" width="2.87" height="101.35"/>
<rect x="622.31" y="587.71" width="2.87" height="77.19"/>
<rect x="636.66" y="604.62" width="2.87" height="60.28"/>
<rect x="651.01" y="613.42" width="2.87" height="51.48"/>
<rect x="665.36" y="623.20" width="2.87" height="41.70"/>
<rect x="679.71" y="630.04" width="2.87" height="34.86"/>
<rect x="694.06" y="631.54" width="2.87" height="33.36"/>
<rect x="708.41" y="637.18" width="2.87" height="27.72"/>
<rect x="722.76" y="640.63" width="2.87" height="24.27"/>
<rect x="737.11" y="643.21" width="2.87" height="21.69"/>
<rect x="751.46" y="644.25" width="2.87" height="20.65"/>
<rect x="765.81" y="648.10" width="2.87" height="16.80"/>
<rect x="780.16" y="648.10" width="2.87" height="16.80"/>
<rect x="794.51" y="648.10" width="2.87" height="16.80"/>
<rect x="808.86" y="653.28" width="2.87" height="11.62"/>
<rect x="823.21" y="655.12" width="2.87" height="9.78"/>
<rect x="837.56" y="657.71" width="2.87" height="7.19"/>
<rect x="851.91" y="660.36" width="2.87" height="4.54"/>
<rect x="866.26" y="662.60" width="2.87" height="2.30"/>
<rect x="880.61" y="664.15" width="2.87" height="0.75"/>
</g>
<g fill="#F39AFB" stroke="rgba(185,40,195,0.55)" stroke-width="1">
<rect x="567.78" y="611.92" width="2.87" height="52.98"/>
<rect x="582.13" y="533.29" width="2.87" height="131.61"/>
<rect x="596.48" y="554.00" width="2.87" height="110.90"/>
<rect x="610.83" y="568.38" width="2.87" height="96.52"/>
<rect x="625.18" y="582.47" width="2.87" height="82.43"/>
<rect x="639.53" y="598.00" width="2.87" height="66.90"/>
<rect x="653.88" y="606.29" width="2.87" height="58.61"/>
<rect x="668.23" y="613.42" width="2.87" height="51.48"/>
<rect x="682.58" y="621.41" width="2.87" height="43.49"/>
<rect x="696.93" y="626.53" width="2.87" height="38.37"/>
<rect x="711.28" y="631.14" width="2.87" height="33.76"/>
<rect x="725.63" y="634.36" width="2.87" height="30.54"/>
<rect x="739.98" y="639.48" width="2.87" height="25.42"/>
<rect x="754.33" y="641.32" width="2.87" height="23.58"/>
<rect x="768.68" y="644.25" width="2.87" height="20.65"/>
<rect x="783.03" y="643.21" width="2.87" height="21.69"/>
<rect x="797.38" y="648.10" width="2.87" height="16.80"/>
<rect x="811.73" y="649.66" width="2.87" height="15.24"/>
<rect x="826.08" y="651.73" width="2.87" height="13.17"/>
<rect x="840.43" y="654.32" width="2.87" height="10.58"/>
<rect x="854.78" y="655.35" width="2.87" height="9.55"/>
<rect x="869.13" y="657.65" width="2.87" height="7.25"/>
<rect x="883.48" y="659.21" width="2.87" height="5.69"/>
<rect x="897.83" y="661.79" width="2.87" height="3.11"/>
<rect x="912.18" y="663.35" width="2.87" height="1.55"/>
<rect x="926.53" y="664.32" width="2.87" height="0.58"/>
</g>
<g fill="#5EDCC4" stroke="rgba(0,125,118,0.55)" stroke-width="1">
<rect x="570.65" y="632.29" width="2.87" height="32.61"/>
<rect x="585.00" y="583.22" width="2.87" height="81.68"/>
<rect x="599.35" y="580.92" width="2.87" height="83.98"/>
<rect x="613.70" y="586.50" width="2.87" height="78.40"/>
<rect x="628.05" y="590.76" width="2.87" height="74.14"/>
<rect x="642.40" y="598.00" width="2.87" height="66.90"/>
<rect x="656.75" y="599.79" width="2.87" height="65.11"/>
<rect x="671.10" y="607.03" width="2.87" height="57.87"/>
<rect x="685.45" y="615.66" width="2.87" height="49.24"/>
<rect x="699.80" y="621.18" width="2.87" height="43.72"/>
<rect x="714.15" y="624.69" width="2.87" height="40.21"/>
<rect x="728.50" y="631.14" width="2.87" height="33.76"/>
<rect x="742.85" y="632.80" width="2.87" height="32.10"/>
<rect x="757.20" y="634.24" width="2.87" height="30.66"/>
<rect x="771.55" y="639.53" width="2.87" height="25.37"/>
<rect x="785.90" y="643.21" width="2.87" height="21.69"/>
<rect x="800.25" y="643.21" width="2.87" height="21.69"/>
<rect x="814.60" y="644.42" width="2.87" height="20.48"/>
<rect x="828.95" y="647.07" width="2.87" height="17.83"/>
<rect x="843.30" y="648.62" width="2.87" height="16.28"/>
<rect x="857.65" y="650.98" width="2.87" height="13.92"/>
<rect x="872.00" y="651.21" width="2.87" height="13.69"/>
<rect x="886.35" y="652.42" width="2.87" height="12.48"/>
<rect x="900.70" y="656.16" width="2.87" height="8.74"/>
<rect x="915.05" y="657.71" width="2.87" height="7.19"/>
<rect x="929.40" y="660.36" width="2.87" height="4.54"/>
<rect x="943.75" y="661.91" width="2.87" height="2.99"/>
<rect x="958.10" y="663.35" width="2.87" height="1.55"/>
<rect x="972.45" y="664.32" width="2.87" height="0.58"/>
</g>
<g fill="#A8E5F8" stroke="rgba(80,170,225,0.45)" stroke-width="1">
<rect x="559.17" y="643.33" width="2.87" height="21.57"/>
<rect x="573.52" y="609.62" width="2.87" height="55.28"/>
<rect x="587.87" y="606.63" width="2.87" height="58.27"/>
<rect x="602.22" y="602.84" width="2.87" height="62.06"/>
<rect x="616.57" y="600.59" width="2.87" height="64.31"/>
<rect x="630.92" y="604.79" width="2.87" height="60.11"/>
<rect x="645.27" y="606.63" width="2.87" height="58.27"/>
<rect x="659.62" y="607.38" width="2.87" height="57.52"/>
<rect x="673.97" y="611.58" width="2.87" height="53.32"/>
<rect x="688.32" y="612.67" width="2.87" height="52.23"/>
<rect x="702.67" y="619.46" width="2.87" height="45.44"/>
<rect x="717.02" y="621.59" width="2.87" height="43.31"/>
<rect x="731.37" y="624.41" width="2.87" height="40.49"/>
<rect x="745.72" y="629.07" width="2.87" height="35.83"/>
<rect x="760.07" y="630.45" width="2.87" height="34.45"/>
<rect x="774.42" y="633.03" width="2.87" height="31.87"/>
<rect x="788.77" y="635.91" width="2.87" height="28.99"/>
<rect x="803.12" y="639.36" width="2.87" height="25.54"/>
<rect x="817.47" y="640.80" width="2.87" height="24.10"/>
<rect x="831.82" y="643.21" width="2.87" height="21.69"/>
<rect x="846.17" y="641.55" width="2.87" height="23.35"/>
<rect x="860.52" y="644.42" width="2.87" height="20.48"/>
<rect x="874.87" y="648.10" width="2.87" height="16.80"/>
<rect x="889.22" y="649.43" width="2.87" height="15.47"/>
<rect x="903.57" y="650.35" width="2.87" height="14.55"/>
<rect x="917.92" y="652.25" width="2.87" height="12.65"/>
<rect x="932.27" y="655.87" width="2.87" height="9.03"/>
<rect x="946.62" y="657.42" width="2.87" height="7.48"/>
<rect x="960.97" y="661.05" width="2.87" height="3.85"/>
<rect x="975.32" y="663.17" width="2.87" height="1.73"/>
<rect x="989.67" y="663.98" width="2.87" height="0.92"/>
<rect x="1004.02" y="664.50" width="2.87" height="0.40"/>
</g>
<rect x="549.4" y="377.3" width="508.90" height="287.60" fill="none" stroke="#3a3a3a" stroke-width="1.15"/>
<g font-family='"Liberation Sans", Arial, Helvetica, sans-serif' font-size="11.3" fill="#000" stroke="#000" stroke-width="0.25">
<text transform="translate(554.30,674.20) rotate(45)">0</text>
<text transform="translate(568.65,674.20) rotate(45)">1</text>
<text transform="translate(583.00,674.20) rotate(45)">2</text>
<text transform="translate(597.35,674.20) rotate(45)">3</text>
<text transform="translate(611.70,674.20) rotate(45)">4</text>
<text transform="translate(626.05,674.20) rotate(45)">5</text>
<text transform="translate(640.40,674.20) rotate(45)">6</text>
<text transform="translate(654.75,674.20) rotate(45)">7</text>
<text transform="translate(669.10,674.20) rotate(45)">8</text>
<text transform="translate(683.45,674.20) rotate(45)">9</text>
<text transform="translate(697.80,674.20) rotate(45)">10</text>
<text transform="translate(712.15,674.20) rotate(45)">11</text>
<text transform="translate(726.50,674.20) rotate(45)">12</text>
<text transform="translate(740.85,674.20) rotate(45)">13</text>
<text transform="translate(755.20,674.20) rotate(45)">14</text>
<text transform="translate(769.55,674.20) rotate(45)">15</text>
<text transform="translate(783.90,674.20) rotate(45)">16</text>
<text transform="translate(798.25,674.20) rotate(45)">17</text>
<text transform="translate(812.60,674.20) rotate(45)">18</text>
<text transform="translate(826.95,674.20) rotate(45)">19</text>
<text transform="translate(841.30,674.20) rotate(45)">20</text>
<text transform="translate(855.65,674.20) rotate(45)">21</text>
<text transform="translate(870.00,674.20) rotate(45)">22</text>
<text transform="translate(884.35,674.20) rotate(45)">23</text>
<text transform="translate(898.70,674.20) rotate(45)">24</text>
<text transform="translate(913.05,674.20) rotate(45)">25</text>
<text transform="translate(927.40,674.20) rotate(45)">26</text>
<text transform="translate(941.75,674.20) rotate(45)">27</text>
<text transform="translate(956.10,674.20) rotate(45)">28</text>
<text transform="translate(970.45,674.20) rotate(45)">29</text>
<text transform="translate(984.80,674.20) rotate(45)">30</text>
<text transform="translate(999.15,674.20) rotate(45)">31</text>
<text transform="translate(1013.50,674.20) rotate(45)">32</text>
<text transform="translate(1027.85,674.20) rotate(45)">33</text>
<text transform="translate(1042.20,674.20) rotate(45)">34</text>
</g>
<g font-family='"Liberation Sans", Arial, Helvetica, sans-serif' font-size="11.5" fill="#000" text-anchor="end">
<rect x="1012.30" y="384.45" width="32.30" height="6.3" fill="#FAA296" stroke="#EC7E70" stroke-width="0.8"/>
<text x="1005.10" y="391.40" stroke="#000" stroke-width="0.2">v=0</text>
<rect x="1012.30" y="396.10" width="32.30" height="6.3" fill="#E9A0F6" stroke="#C565DE" stroke-width="0.8"/>
<text x="1005.10" y="403.05" stroke="#000" stroke-width="0.2">v=1</text>
<rect x="1012.30" y="407.75" width="32.30" height="6.3" fill="#6FD6BF" stroke="#1FA587" stroke-width="0.8"/>
<text x="1005.10" y="414.70" stroke="#000" stroke-width="0.2">v=2</text>
<rect x="1012.30" y="419.40" width="32.30" height="6.3" fill="#ABE2F5" stroke="#8CCBEB" stroke-width="0.8"/>
<text x="1005.10" y="426.35" stroke="#000" stroke-width="0.2">v=3</text>
</g>
<text transform="translate(735.00,482.60) scale(0.925,1)" font-family='"Liberation Sans", Arial, Helvetica, sans-serif' font-weight="bold" font-size="12.5" fill="#000">E<tspan font-size="9.8" dy="3.4">c</tspan><tspan dy="-3.4"> = 0.7 eV</tspan></text>
<text transform="translate(549.3,364.2) scale(0.96,1)" font-family='"Liberation Sans", Arial, Helvetica, sans-serif' font-weight="bold" font-size="22" fill="#111">D</text>
</g>
<text x="547.0" y="709.6" text-anchor="middle" font-family='"Liberation Serif", "DejaVu Serif", serif' font-weight="bold" font-size="17" letter-spacing="0.58" word-spacing="2.2" fill="#262626" id="xlabel">Vibrational quantum number v′</text>
</svg>
</body></html>
